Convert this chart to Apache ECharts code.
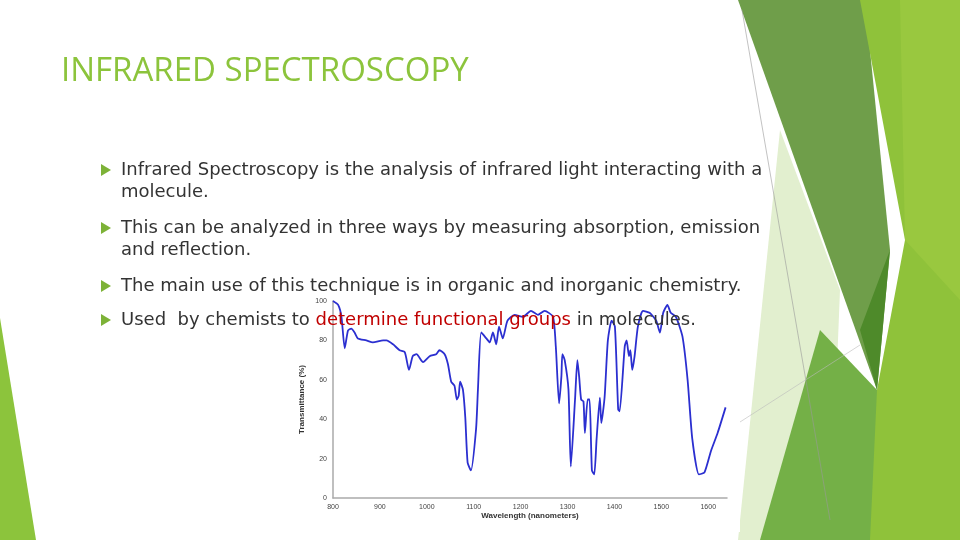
<!DOCTYPE html>
<html><head><meta charset="utf-8">
<script src="https://cdn.jsdelivr.net/npm/echarts@6/dist/echarts.min.js"></script>
<style>html,body{margin:0;padding:0;background:#fff}#c{width:960px;height:540px}</style>
</head><body><div id="c"></div>
<script>
const wavelength = [800,811,818,825,832,839,846,853,871,885,907,914,928,942,953,962,970,978,992,1006,1020,1027,1038,1045,1052,1059,1064,1068,1071,1077,1082,1087,1094,1105,1109,1116,1127,1134,1141,1148,1154,1162,1172,1187,1205,1222,1237,1251,1269,1275,1282,1287,1289,1294,1302,1307,1316,1321,1325,1329,1334,1337,1343,1347,1352,1357,1362,1369,1372,1379,1386,1394,1401,1408,1411,1422,1426,1431,1434,1438,1443,1450,1461,1475,1489,1497,1504,1513,1520,1531,1545,1556,1566,1580,1592,1606,1620,1637];
const transmittance = [100,98,92,76,85,86,84,81,80,79,80,80,78,75,74,65,72,73,69,72,73,75,73,68,59,57,50,52,59,55,41,18,14,35,55,84,81,79,84,78,87,81,90,93,92,95,93,95,92,77,48,62,73,70,55,16,50,70,61,50,49,33,50,50,14,12,30,51,38,51,80,90,87,45,44,77,80,72,75,65,72,87,95,94,90,84,94,98,94,92,82,60,30,12,13,24,33,46];
const yTicks = [0,20,40,60,80,100];
const title = "INFRARED SPECTROSCOPY";
const bullets = [
  ["Infrared Spectroscopy is the analysis of infrared light interacting with a","molecule."],
  ["This can be analyzed in three ways by measuring absorption, emission","and reflection."],
  ["The main use of this technique is in organic and inorganic chemistry."],
  ["Used  by chemists to {r|determine functional groups} in molecules."]
];
const bulletY = [170,228,286,320];

const chart = echarts.init(document.getElementById('c'));
const graphics = [
  {type:'rect',shape:{x:290,y:290,width:450,height:242},style:{fill:'#fff'},z:-1},
  {type:'polygon',shape:{points:[[0,318],[0,540],[36,540]]},style:{fill:'#8cc43c'},z:-2},
  {type:'polygon',shape:{points:[[780,130],[840,290],[830,540],[738,540]]},style:{fill:'#e2efcf'},z:-3},
  {type:'polygon',shape:{points:[[738,0],[865,0],[890,250],[877,390]]},style:{fill:'#6f9e4a'},z:-2},
  {type:'polygon',shape:{points:[[820,330],[877,390],[900,540],[760,540]]},style:{fill:'#74b047'},z:-2},
  {type:'polygon',shape:{points:[[860,0],[960,0],[960,540],[870,540],[877,390],[905,240]]},style:{fill:'#8fc23a'},z:-2},
  {type:'polygon',shape:{points:[[900,0],[960,0],[960,300],[905,240]]},style:{fill:'#99c83f'},z:-2},
  {type:'polygon',shape:{points:[[860,330],[890,250],[877,390]]},style:{fill:'#4e8a2a'},z:-1},
  {type:'line',shape:{x1:742,y1:10,x2:830,y2:520},style:{stroke:'#999',lineWidth:0.6},z:-1},
  {type:'line',shape:{x1:740,y1:422,x2:860,y2:345},style:{stroke:'#bbb',lineWidth:0.6},z:-1},
  {type:'text',left:61,top:55,style:{text:title,fill:'#8cc43c',font:'33px "Open Sans", sans-serif'},z:10}
];
bullets.forEach((b,i)=>{
  graphics.push({type:'polygon',shape:{points:[[101,bulletY[i]-6],[101,bulletY[i]+6],[111,bulletY[i]]]},style:{fill:'#7db237'},z:10});
  graphics.push({type:'text',left:121,top:bulletY[i]-11,style:{text:b.join('\n'),fill:'#333',font:'18px "DejaVu Sans", sans-serif',lineHeight:22,rich:{r:{fill:'#c00000',font:'18px "DejaVu Sans", sans-serif'}}},z:10});
});
chart.setOption({
  animation:false,
  backgroundColor:'#fff',
  graphic:graphics,
  grid:{left:333,right:233,top:301,bottom:42},
  xAxis:{type:'value',min:800,max:1640,interval:100,
    name:'Wavelength (nanometers)',nameLocation:'middle',nameGap:14,
    nameTextStyle:{fontSize:8,fontWeight:'bold',color:'#333'},
    axisLine:{lineStyle:{color:'#aaa',width:1.5}},axisTick:{show:false},splitLine:{show:false},
    axisLabel:{fontSize:7,color:'#444',margin:6,showMaxLabel:false,formatter:v=>v%100===0?v:''}},
  yAxis:{type:'value',min:0,max:100,interval:20,
    name:'Transmittance (%)',nameLocation:'middle',nameGap:27,
    nameTextStyle:{fontSize:8,fontWeight:'bold',color:'#333'},
    axisLine:{show:true,lineStyle:{color:'#aaa',width:1.5}},axisTick:{show:false},splitLine:{show:false},
    axisLabel:{fontSize:7,color:'#444',margin:6}},
  series:[{type:'line',data:wavelength.map((w,i)=>[w,transmittance[i]]),showSymbol:false,smooth:0.2,
    lineStyle:{color:'#2b2fd0',width:1.8},z:3}]
});
</script></body></html>
